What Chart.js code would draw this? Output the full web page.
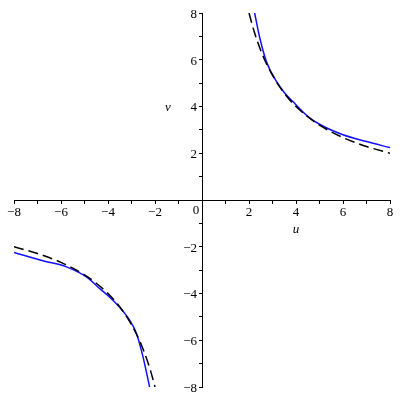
<!DOCTYPE html>
<html><head><meta charset="utf-8">
<style>html,body{margin:0;padding:0;background:#fff;}canvas{display:block;}</style>
<script src="https://cdn.jsdelivr.net/npm/chart.js@4/dist/chart.umd.min.js"></script>
</head><body>
<canvas id="c" width="400" height="400"></canvas>
<script>
// Tick values
const tickValues = [-8,-7,-6,-5,-4,-3,-2,-1,0,1,2,3,4,5,6,7,8];
const labelValues = [-8,-6,-4,-2,2,4,6,8];
// Blue solid curve (upper branch)
const blueUpperU = [2.24, 2.46, 2.74, 3.17, 3.5, 3.87, 4.5, 5.0, 6.0, 7.0, 8.0];
const blueUpperV = [8.0, 6.93, 5.93, 5.07, 4.6, 4.21, 3.58, 3.24, 2.79, 2.5, 2.24];
// Blue solid curve (lower branch)
const blueLowerU = [-8.0, -6.77, -5.77, -4.92, -4.35, -3.79, -3.08, -2.79, -2.51, -2.23];
const blueLowerV = [-2.24, -2.6, -2.86, -3.29, -3.79, -4.29, -5.14, -5.71, -6.71, -8.0];
// Black dashed curve (upper branch)
const dashUpperU = [2.0, 2.2, 2.5, 2.8, 3.2, 3.6, 4.0, 4.5, 5.0, 6.0, 7.0, 8.0];
const dashUpperV = [8.0, 7.27, 6.4, 5.71, 5.0, 4.44, 4.0, 3.56, 3.2, 2.67, 2.29, 2.0];
// Black dashed curve (lower branch)
const dashLowerU = [-8.0, -7.0, -6.0, -5.0, -4.5, -4.0, -3.6, -3.2, -2.8, -2.5, -2.2, -2.0];
const dashLowerV = [-2.0, -2.29, -2.67, -3.2, -3.56, -4.0, -4.44, -5.0, -5.71, -6.4, -7.27, -8.0];
const axisLabelX = 'u', axisLabelY = 'v';

const pts = (xs, ys) => xs.map((x, i) => ({x, y: ys[i]}));
const fmt = v => v < 0 ? '\u2212' + Math.abs(v) : String(v);
const serif = '"Liberation Serif", "DejaVu Serif", serif';

const lineDs = (data, color, dash) => ({
  data, borderColor: color, borderWidth: 1.5, borderDash: dash,
  showLine: true, pointRadius: 0, cubicInterpolationMode: 'monotone', fill: false
});

const labelsPlugin = {
  id: 'labelsPlugin',
  afterDraw(chart) {
    const {ctx, scales: {x, y}} = chart;
    const x0 = x.getPixelForValue(0), y0 = y.getPixelForValue(0);
    ctx.save();
    ctx.fillStyle = '#000';
    ctx.font = '13px ' + serif;
    // y tick labels, left of the vertical axis
    ctx.textAlign = 'right';
    ctx.textBaseline = 'middle';
    labelValues.forEach(v => ctx.fillText(fmt(v), x0 - 5, y.getPixelForValue(v) + 1.5));
    // x tick labels, below the horizontal axis
    ctx.textAlign = 'center';
    labelValues.forEach(v => ctx.fillText(fmt(v), x.getPixelForValue(v), y0 + 13));
    ctx.fillText('0', x0 - 6, y0 + 11);
    // axis titles
    ctx.font = 'italic 13px ' + serif;
    ctx.fillText(axisLabelX, x.getPixelForValue(4), y0 + 30);
    ctx.fillText(axisLabelY, x0 - 34, y.getPixelForValue(4) + 1);
    ctx.restore();
  }
};

new Chart(document.getElementById('c'), {
  type: 'scatter',
  data: {
    datasets: [
      lineDs(pts(dashUpperU, dashUpperV), '#000000', [10, 5]),
      lineDs(pts(dashLowerU, dashLowerV), '#000000', [10, 5]),
      lineDs(pts(blueUpperU, blueUpperV), '#1010ff', []),
      lineDs(pts(blueLowerU, blueLowerV), '#1010ff', [])
    ]
  },
  options: {
    responsive: false,
    animation: false,
    layout: {padding: {left: 14, right: 10, top: 13, bottom: 13}},
    plugins: {legend: {display: false}, tooltip: {enabled: false}},
    scales: {
      x: {
        type: 'linear', min: -8, max: 8, position: {y: 0},
        afterBuildTicks: s => { s.ticks = tickValues.map(v => ({value: v})); },
        ticks: {display: false},
        grid: {drawOnChartArea: false, drawTicks: true, tickLength: 3, color: '#000'},
        border: {display: true, color: '#000', width: 1}
      },
      y: {
        type: 'linear', min: -8, max: 8, position: {x: 0},
        afterBuildTicks: s => { s.ticks = tickValues.map(v => ({value: v})); },
        ticks: {display: false},
        grid: {drawOnChartArea: false, drawTicks: true, tickLength: 3, color: '#000'},
        border: {display: true, color: '#000', width: 1}
      }
    }
  },
  plugins: [labelsPlugin]
});
</script>
</body></html>
